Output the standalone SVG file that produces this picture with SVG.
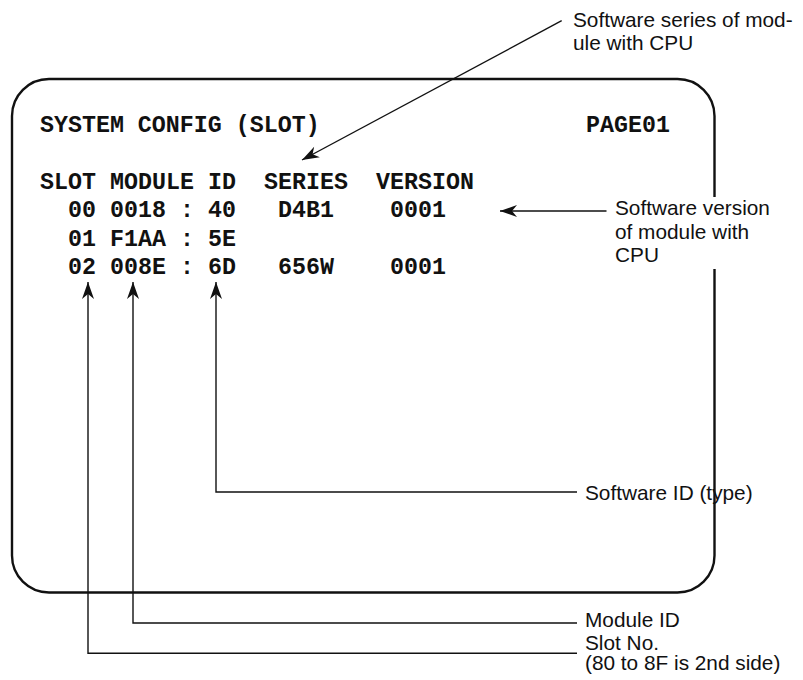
<svg xmlns="http://www.w3.org/2000/svg" width="803" height="680" viewBox="0 0 803 680">
<style>
.mono{font-family:"Liberation Mono","Courier New",monospace;font-weight:bold;font-size:23.3px;fill:#111}
.lbl{font-family:"Liberation Sans",Arial,sans-serif;font-size:20.8px;fill:#111}
.frame{fill:none;stroke:#111;stroke-width:2.4}
.conn{fill:none;stroke:#111;stroke-width:1.4}
</style>
<defs>
<marker id="ah" viewBox="-18 -7 19 14" refX="0" refY="0" markerWidth="19" markerHeight="14" markerUnits="userSpaceOnUse" orient="auto">
<path d="M0,0 L-17,-6 L-12,0 L-17,6 Z" fill="#111"/>
</marker>
</defs>
<rect width="803" height="680" fill="#fff"/>
<g id="screen">
<path class="frame" d="M714.5,269 V555.5 A37,37 0 0 1 677.5,592.5 H49 A37,37 0 0 1 12,555.5 V116 A37,37 0 0 1 49,79 H677.5 A37,37 0 0 1 714.5,116 V197"/>
<text class="mono" x="40" y="131.7">SYSTEM CONFIG (SLOT)</text>
<text class="mono" x="586" y="131.7">PAGE01</text>
<g id="header-row">
<text class="mono" x="40" y="189.3">SLOT</text>
<text class="mono" x="110" y="189.3">MODULE</text>
<text class="mono" x="208" y="189.3">ID</text>
<text class="mono" x="264" y="189.3">SERIES</text>
<text class="mono" x="376" y="189.3">VERSION</text>
</g>
<g id="row-00">
<text class="mono" x="68" y="217.3">00</text>
<text class="mono" x="110" y="217.3">0018</text>
<text class="mono" x="180" y="217.3">:</text>
<text class="mono" x="208" y="217.3">40</text>
<text class="mono" x="278" y="217.3">D4B1</text>
<text class="mono" x="390" y="217.3">0001</text>
</g>
<g id="row-01">
<text class="mono" x="68" y="245.7">01</text>
<text class="mono" x="110" y="245.7">F1AA</text>
<text class="mono" x="180" y="245.7">:</text>
<text class="mono" x="208" y="245.7">5E</text>
</g>
<g id="row-02">
<text class="mono" x="68" y="274">02</text>
<text class="mono" x="110" y="274">008E</text>
<text class="mono" x="180" y="274">:</text>
<text class="mono" x="208" y="274">6D</text>
<text class="mono" x="278" y="274">656W</text>
<text class="mono" x="390" y="274">0001</text>
</g>
</g>
<g id="connectors">
<line class="conn" x1="561.7" y1="20.7" x2="302" y2="160" marker-end="url(#ah)"/>
<line class="conn" x1="606.5" y1="211" x2="500" y2="211" marker-end="url(#ah)"/>
<polyline class="conn" points="577,492 216,492 216,282" marker-end="url(#ah)"/>
<polyline class="conn" points="577,623 133,623 133,282" marker-end="url(#ah)"/>
<polyline class="conn" points="577,653.3 88,653.3 88,282" marker-end="url(#ah)"/>
</g>
<g id="label-series">
<text class="lbl" x="573" y="26.7">Software series of mod-</text>
<text class="lbl" x="573" y="50">ule with CPU</text>
</g>
<g id="label-version">
<text class="lbl" x="615" y="215">Software version</text>
<text class="lbl" x="615" y="238.5">of module with</text>
<text class="lbl" x="615" y="262">CPU</text>
</g>
<g id="label-software-id">
<text class="lbl" x="585" y="500">Software ID (type)</text>
</g>
<g id="label-module-id">
<text class="lbl" x="585" y="626.7">Module ID</text>
</g>
<g id="label-slot">
<text class="lbl" x="585" y="649.5">Slot No.</text>
<text class="lbl" x="585" y="670">(80 to 8F is 2nd side)</text>
</g>
</svg>
